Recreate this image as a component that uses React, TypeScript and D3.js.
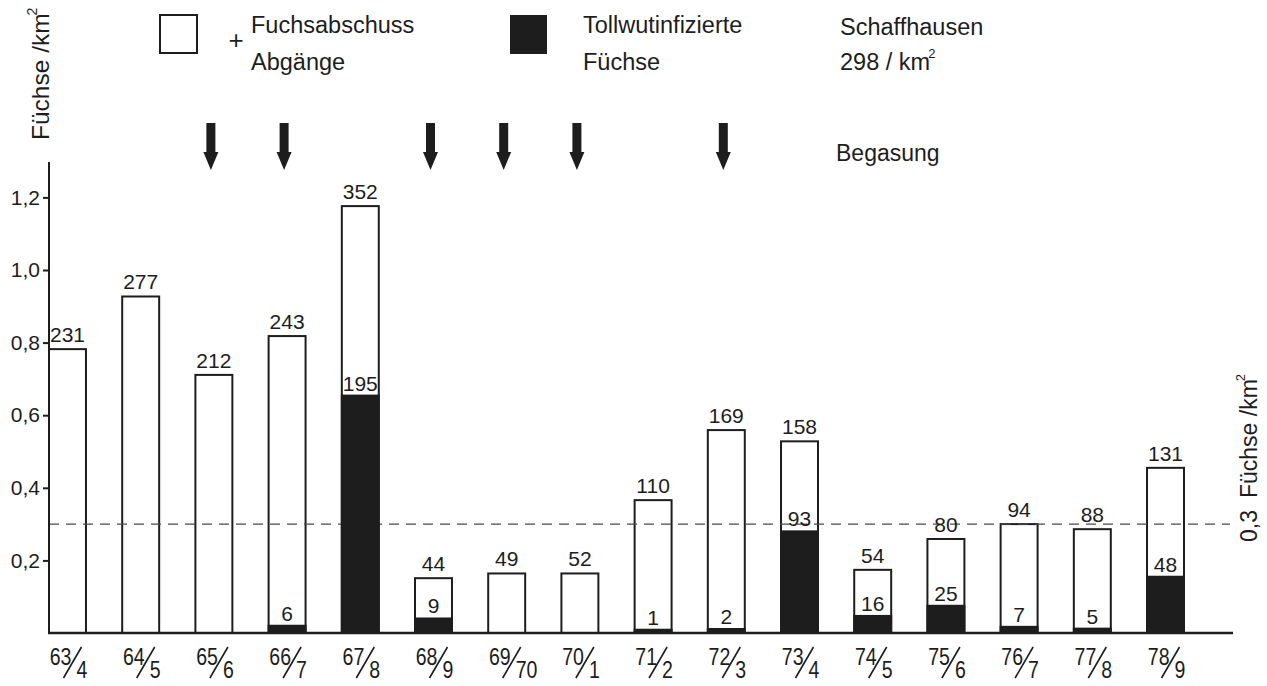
import React, { useRef, useEffect } from "react";
import * as d3 from "d3";

// seasons split into the two parts of the printed fraction (63/4 ...)
const seasonFrom = ["63", "64", "65", "66", "67", "68", "69", "70", "71", "72", "73", "74", "75", "76", "77", "78"];
const seasonTo = ["4", "5", "6", "7", "8", "9", "70", "1", "2", "3", "4", "5", "6", "7", "8", "9"];

// fox shot + losses (count) and density per km²
const totalCounts = [231, 277, 212, 243, 352, 44, 49, 52, 110, 169, 158, 54, 80, 94, 88, 131];
const totalDensity = [0.782, 0.927, 0.711, 0.818, 1.176, 0.151, 0.164, 0.164, 0.366, 0.559, 0.528, 0.174, 0.259, 0.3, 0.286, 0.455];

// rabies infected foxes
const rabidCounts = [null, null, null, 6, 195, 9, null, null, 1, 2, 93, 16, 25, 7, 5, 48];
const rabidDensity = [0, 0, 0, 0.02, 0.654, 0.04, 0, 0, 0.009, 0.011, 0.28, 0.047, 0.075, 0.017, 0.012, 0.155];

// seasons with gassing (Begasung)
const gassingSeasons = ["65/6", "66/7", "68/9", "69/70", "70/1", "72/3"];

const yTicks = [0.2, 0.4, 0.6, 0.8, 1.0, 1.2];
const threshold = 0.3;

const seasons = seasonFrom.map((s, i) => s + "/" + seasonTo[i]);

const INK = "#1d1d1d";
const FONT = "'Liberation Sans', Arial, sans-serif";

const App = () => {
  const axisRef = useRef<SVGGElement>(null);

  const x = d3.scaleBand<string>()
    .domain(seasons)
    .range([49, 1184])
    .paddingInner(0.495)
    .paddingOuter(0);

  const y = d3.scaleLinear()
    .domain([0, 1.2])
    .range([633, 197.4]);

  const bw = x.bandwidth();
  const fmt = d3.formatLocale({ decimal: ",", thousands: ".", grouping: [3], currency: ["", ""] }).format(".1f");

  useEffect(() => {
    const g = d3.select(axisRef.current);
    const yAxis = d3.axisLeft(y)
      .tickValues(yTicks)
      .tickSize(6)
      .tickPadding(3)
      .tickFormat((d) => fmt(d as number));
    g.call(yAxis);
    g.select(".domain").remove();
    g.selectAll(".tick line").attr("stroke", INK).attr("stroke-width", 2);
    g.selectAll(".tick text")
      .attr("fill", INK)
      .style("font-family", FONT)
      .style("font-size", "21px");
  }, []);

  return (
    <svg width={1267} height={686} style={{ position: "absolute", left: 0, top: 0, background: "#fff" }}
      fontFamily={FONT}>
      {/* legend */}
      <rect x={160} y={15} width={37} height={38} fill="#fff" stroke={INK} strokeWidth={2} />
      <text x={236} y={49} fontSize={26} textAnchor="middle" fill={INK}>+</text>
      <text x={251} y={33} fontSize={23.5} fill={INK}>Fuchsabschuss</text>
      <text x={251} y={70} fontSize={23.5} fill={INK}>Abgänge</text>
      <rect x={510} y={15} width={37} height={39} fill={INK} />
      <text x={583} y={33} fontSize={23.5} fill={INK}>Tollwutinfizierte</text>
      <text x={583} y={70} fontSize={23.5} fill={INK}>Füchse</text>
      <text x={840} y={35} fontSize={23.5} fill={INK}>Schaffhausen</text>
      <text x={840} y={70} fontSize={23.5} fill={INK}>
        298 / km<tspan dx={-2} dy={-12} fontSize={13}>2</tspan>
      </text>
      <text x={836} y={161} fontSize={23} fill={INK}>Begasung</text>

      {/* gassing arrows */}
      {gassingSeasons.map((s) => {
        const cx = (x(s) ?? 0) + bw / 2 - 3;
        return (
          <path key={s} fill={INK}
            d={`M${cx - 4.5},123 L${cx + 4.5},123 L${cx + 4.5},152 L${cx + 7.5},152 L${cx},170 L${cx - 7.5},152 L${cx - 4.5},152 Z`} />
        );
      })}

      {/* y axis title */}
      <text transform="translate(49,140) rotate(-90)" fontSize={24.5} fill={INK}>
        Füchse /km<tspan dx={-2} dy={-12} fontSize={14}>2</tspan>
      </text>

      {/* white bars (fox shot + losses) */}
      {seasons.map((s, i) => {
        const top = y(totalDensity[i]);
        return (
          <rect key={"w" + s} x={x(s) ?? 0} y={top} width={bw} height={y(0) - top}
            fill="#fff" stroke={INK} strokeWidth={2} />
        );
      })}

      {/* threshold line, runs through the open bars */}
      <line x1={49} x2={1230} y1={y(threshold)} y2={y(threshold)} stroke="#4a4a4a" strokeWidth={1.3} strokeDasharray="10 7" />
      <text transform={`translate(1257,542) rotate(-90)`} fontSize={23} fill={INK}>
        {fmt(threshold)}<tspan dx={12}>Füchse /km</tspan><tspan dx={-2} dy={-12} fontSize={13}>2</tspan>
      </text>

      {/* black bars (rabies infected) and value labels */}
      {seasons.map((s, i) => {
        const bx = x(s) ?? 0;
        const top = y(totalDensity[i]);
        const rTop = y(rabidDensity[i]);
        return (
          <g key={s}>
            {rabidDensity[i] > 0 && (
              <rect x={bx} y={rTop} width={bw} height={y(0) - rTop} fill={INK} stroke={INK} strokeWidth={2} />
            )}
            <text x={bx + bw / 2} y={top - 7} fontSize={21} textAnchor="middle" fill={INK}>{totalCounts[i]}</text>
            {rabidCounts[i] != null && (
              <text x={bx + bw / 2} y={rTop - 5} fontSize={21} textAnchor="middle" fill={INK}>{rabidCounts[i]}</text>
            )}
          </g>
        );
      })}

      {/* axes */}
      <line x1={49} x2={49} y1={162} y2={y(0) + 1} stroke={INK} strokeWidth={2} />
      <line x1={48} x2={1233} y1={y(0)} y2={y(0)} stroke={INK} strokeWidth={2.5} />
      <g ref={axisRef} transform="translate(49,0)" />

      {/* season labels as fractions */}
      {seasons.map((s, i) => {
        const c = (x(s) ?? 0) + bw / 2;
        return (
          <g key={"l" + s} fill={INK} fontSize={23}>
            <text transform={`translate(${c + 4},665) scale(0.85,1)`} textAnchor="end">{seasonFrom[i]}</text>
            <line x1={c - 4} y1={678} x2={c + 14} y2={647} stroke={INK} strokeWidth={1.6} />
            <text transform={`translate(${c + 9},678) scale(0.85,1)`}>{seasonTo[i]}</text>
          </g>
        );
      })}
    </svg>
  );
};

export default App;
